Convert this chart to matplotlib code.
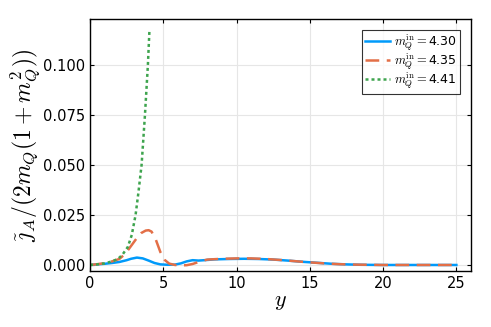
"""Current density j_A vs y for three m_Q^in values (Julia/GR look)."""
import matplotlib
matplotlib.use("Agg")
import matplotlib.pyplot as plt

plt.rcParams.update({
    "font.family": "DejaVu Sans",
    "mathtext.fontset": "cm",
    "font.size": 10,
})

# m_Q^in = 4.30
y_430 = [0, 0.5, 1, 1.5, 2, 2.5, 2.8, 3.2, 3.6, 4.0, 4.4, 4.8, 5.3, 5.8,
         6.2, 6.6, 7.0, 7.4, 7.8, 8.5, 9.5, 10.5, 11.5, 12.5, 13.5, 14.5,
         15.5, 16.5, 17.5, 18.5, 20, 22, 25]
j_430 = [0, 0.0003, 0.0006, 0.001, 0.0015, 0.0024, 0.0031, 0.0037, 0.0033,
         0.0022, 0.0010, 0.0003, 0.0001, 0.0002, 0.0008, 0.0018, 0.0024,
         0.0022, 0.0024, 0.0028, 0.0030, 0.0031, 0.0030, 0.0027, 0.0022,
         0.0016, 0.0011, 0.0006, 0.0003, 0.0001, 0.0, 0.0, 0.0]

# m_Q^in = 4.35
y_435 = [0, 0.5, 1, 1.5, 2, 2.4, 2.8, 3.2, 3.5, 3.8, 4.0, 4.2, 4.5, 4.8,
         5.1, 5.4, 5.8, 6.2, 6.6, 7.0, 7.5, 8, 9, 10, 11, 12, 13, 14, 15,
         16, 17, 18, 19, 20, 22, 25]
j_435 = [0, 0.0004, 0.0009, 0.0018, 0.003, 0.0055, 0.0095, 0.0135, 0.016,
         0.0172, 0.0174, 0.0167, 0.0125, 0.0065, 0.0025, 0.0007, 0.0,
         -0.0002, -0.0001, 0.0005, 0.0017, 0.0027, 0.0031, 0.0033, 0.0033,
         0.0030, 0.0025, 0.0019, 0.0013, 0.0008, 0.0004, 0.0002, 0.0001,
         0.0, 0.0, 0.0]

# m_Q^in = 4.41 (blows up)
y_441 = [0, 0.5, 1, 1.5, 1.9, 2.2, 2.58, 2.85, 3.11, 3.3, 3.52, 3.75,
         3.95, 4.06]
j_441 = [0, 0.0003, 0.0008, 0.0018, 0.003, 0.005, 0.009, 0.015, 0.025,
         0.036, 0.05, 0.075, 0.1, 0.118]

fig = plt.figure(figsize=(4.91, 3.27), dpi=100)
ax = fig.add_axes([0.1833, 0.1713, 0.776, 0.7706])

ax.plot(y_430, j_430, color="#009AFA", lw=1.8,
        label=r"$m_Q^{\mathrm{in}} = $4.30")
ax.plot(y_435, j_435, color="#E36F47", lw=1.8, dashes=(5.5, 3),
        label=r"$m_Q^{\mathrm{in}} = $4.35")
ax.plot(y_441, j_441, color="#3EA44E", lw=1.8, dashes=(1.2, 1.2),
        label=r"$m_Q^{\mathrm{in}} = $4.41")

ax.set_xlim(0, 26)
ax.set_ylim(-0.003, 0.123)
ax.set_xticks([0, 5, 10, 15, 20, 25])
ax.set_yticks([0, 0.025, 0.05, 0.075, 0.1])
ax.set_yticklabels(["0.000", "0.025", "0.050", "0.075", "0.100"])
ax.tick_params(direction="in", top=True, right=True, length=3,
               labelsize=10.5, width=0.8)
ax.grid(True, color="#e6e6e6", lw=0.8)
ax.set_axisbelow(True)
for sp in ax.spines.values():
    sp.set_linewidth(1.0)

ax.set_xlabel(r"$y$", fontsize=16, labelpad=1)
ax.set_ylabel(r"$\tilde{\jmath}_A/(2m_Q(1+m_Q^2))$", fontsize=17,
              labelpad=0)

leg = ax.legend(loc="upper right", fontsize=9, frameon=True,
                fancybox=False, edgecolor="black", handlelength=2.0,
                borderaxespad=0.85, handletextpad=0.3, labelspacing=-0.1,
                borderpad=0.25)
leg.get_frame().set_linewidth(0.8)

fig.savefig("out.png", dpi=100)
